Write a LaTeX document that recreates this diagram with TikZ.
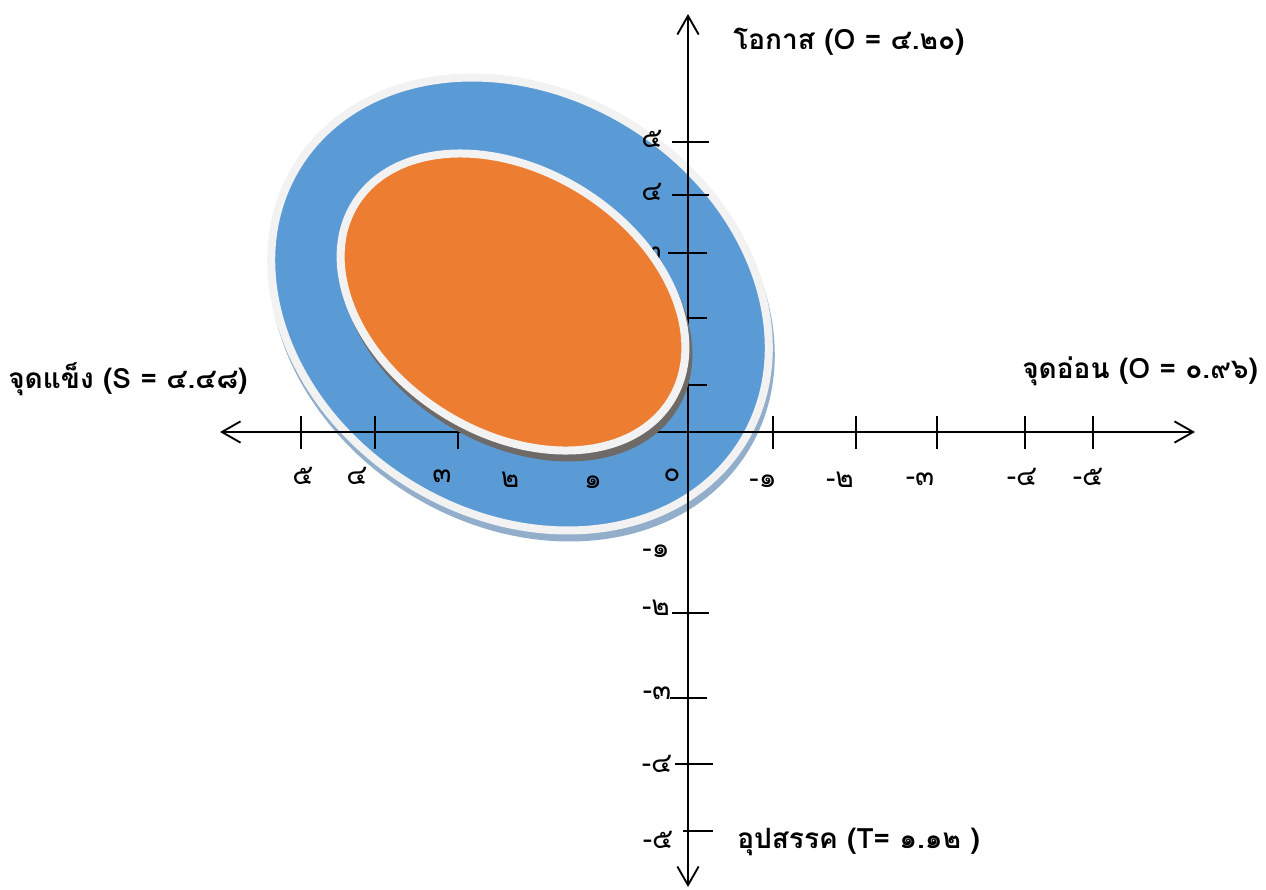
\documentclass[tikz,border=0pt]{standalone}
\usepackage{fontspec}
\setmainfont{Loma}[Script=Thai]
\usetikzlibrary{arrows.meta}
\definecolor{swblue}{HTML}{5B9BD5}
\definecolor{sworange}{HTML}{ED7D31}
\definecolor{swrim}{HTML}{F2F2F2}
\definecolor{swbshadow}{HTML}{93AECB}
\definecolor{swoshadow}{HTML}{6E6A68}
\tikzset{
  axisline/.style={line width=1.7pt, -{Straight Barb[length=14pt,width=16pt,line width=1.4pt]}},
  tickline/.style={line width=1.4pt},
  ticklbl/.style={inner sep=0pt, font=\fontsize{21}{21}\selectfont, anchor=base},
  ytlbl/.style={inner sep=0pt, font=\fontsize{21}{21}\selectfont, anchor=center},
  axtitle/.style={inner sep=0pt, font=\fontsize{21}{21}\selectfont\bfseries, anchor=base west},
}
\begin{document}
\begin{tikzpicture}[x=0.75pt,y=-0.75pt]
\useasboundingbox (0,0) rectangle (1266,889);
% outer (blue) ellipse
\fill[swbshadow] (522,311) ellipse [x radius=266, y radius=215, rotate=-32];
\filldraw[fill=swblue, draw=swrim, line width=6pt] (520,304) ellipse [x radius=262, y radius=211, rotate=-32];
% axes
\coordinate (o) at (688,432);
\coordinate (xl) at (220,432);
\coordinate (xr) at (1195,432);
\coordinate (yt) at (688,14);
\coordinate (yb) at (688,887);
\draw[axisline] (o) -- (xl);
\draw[axisline] (o) -- (xr);
\draw[axisline] (o) -- (yt);
\draw[axisline] (o) -- (yb);
% x ticks
\foreach \tx in {301,375,458,530,610,773,856,937,1025,1093}
  \draw[tickline] (\tx,416) -- (\tx,449);
% y ticks
\foreach \ty/\ya/\yb in {142/672/709,195/672/709,253/668/707,318/668/707,385/668/707,613/672/709,698/670/707,764/675/713,831/683/713}
  \draw[tickline] (\ya,\ty) -- (\yb,\ty);
% x tick labels
\node[ticklbl] (x5) at (303,484) {๕};
\node[ticklbl] (x4) at (357,484) {๔};
\node[ticklbl] (x3) at (442,482) {๓};
\node[ticklbl] (x2) at (510,487) {๒};
\node[ticklbl] (x1) at (593,488) {๑};
\node[ticklbl] (x0) at (672,481) {๐};
\node[ticklbl] (xm1) at (763,487) {-๑};
\node[ticklbl] (xm2) at (840,487) {-๒};
\node[ticklbl] (xm3) at (920,485) {-๓};
\node[ticklbl] (xm4) at (1022,485) {-๔};
\node[ticklbl] (xm5) at (1088,485) {-๕};
% y tick labels
\node[ytlbl] (y5) at (652,139) {๕};
\node[ytlbl] (y4) at (652,192) {๔};
\node[ytlbl] (y3) at (652,253) {๓};
\node[ytlbl] (y2) at (652,318) {๒};
\node[ytlbl] (y1) at (652,385) {๑};
\node[ytlbl] (ym1) at (656,551) {-๑};
\node[ytlbl] (ym2) at (656,608) {-๒};
\node[ytlbl] (ym3) at (657,693) {-๓};
\node[ytlbl] (ym4) at (657,764) {-๔};
\node[ytlbl] (ym5) at (658,840) {-๕};
% inner (orange) ellipse
\fill[swoshadow] (516,309) ellipse [x radius=190, y radius=135, rotate=-32];
\filldraw[fill=sworange, draw=swrim, line width=6pt] (513,302) ellipse [x radius=186, y radius=131, rotate=-32];
% axis titles
\node[axtitle] (topt) at (733,49) {โอกาส (O = ๔.๒๐)};
\node[axtitle] (leftt) at (8,388) {จุดแข็ง (S = ๔.๔๘)};
\node[axtitle] (rightt) at (1022,378) {จุดอ่อน (O = ๐.๙๖)};
\node[axtitle] (bott) at (737,848) {อุปสรรค (T= ๑.๑๒ )};
\end{tikzpicture}
\end{document}
